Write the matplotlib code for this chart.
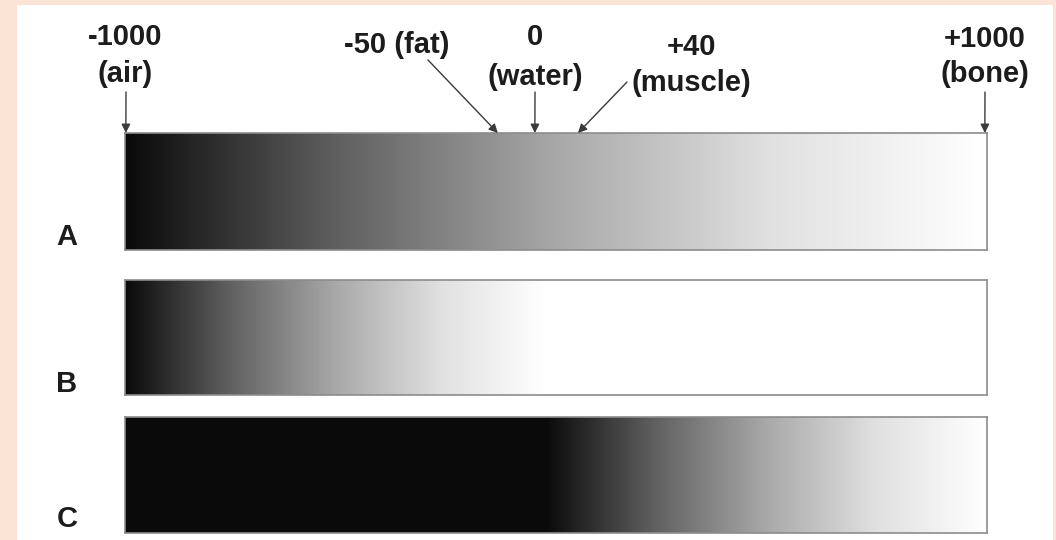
import numpy as np
import matplotlib
matplotlib.use("Agg")
import matplotlib.pyplot as plt
from matplotlib.colors import LinearSegmentedColormap, Normalize
from matplotlib.patches import Rectangle

# Hounsfield scale shown on the bars
hu_min, hu_max = -1000, 1000

# grey-level windows for the three bars (HU at black, HU at white)
bar_names = ["A", "B", "C"]
window_low = [-1000, -1000, -25]
window_high = [1000, -25, 1000]

# markers above bar A
marker_value = ["-1000", "-50 (fat)", "0", "+40", "+1000"]
marker_name = ["(air)", "", "(water)", "(muscle)", "(bone)"]
marker_hu = [-998, -135, -49, 51, 995]   # where the arrows touch the bar, as drawn

# grey ramp (fraction of window -> grey level)
ramp_pos = [0.0, 0.25, 0.5, 0.75, 1.0]
ramp_grey = [0.04, 0.38, 0.66, 0.88, 1.0]

W, H = 1056, 540
fig = plt.figure(figsize=(W / 100, H / 100), dpi=100, facecolor="#fbe3d5")
fig.patches.append(Rectangle((17 / W, 0), 1036 / W, 535 / H, transform=fig.transFigure,
                             facecolor="white", edgecolor="none", zorder=-10))

cmap = LinearSegmentedColormap.from_list(
    "ramp", [(p, (g, g, g)) for p, g in zip(ramp_pos, ramp_grey)])

font = dict(family=["Liberation Sans", "DejaVu Sans"], fontweight="bold",
            fontsize=21, color="#1c1c1c")

# bar rectangles in pixels: top, bottom
bar_top = [133, 280, 417]
bar_bottom = [250, 395, 533]
label_base = [245, 392, 527]
left, right = 125, 987

hu = np.linspace(hu_min, hu_max, 1200)
axes = []
for name, lo, hi, top, bot, lb in zip(bar_names, window_low, window_high,
                                       bar_top, bar_bottom, label_base):
    ax = fig.add_axes([left / W, 1 - bot / H, (right - left) / W, (bot - top) / H])
    ax.imshow(hu[None, :], cmap=cmap, norm=Normalize(lo, hi, clip=True),
              aspect="auto", extent=(hu_min, hu_max, 0, 1), interpolation="bilinear")
    ax.set_xlim(hu_min, hu_max)
    ax.set_ylim(0, 1)
    ax.set_xticks([])
    ax.set_yticks([])
    for s in ax.spines.values():
        s.set_color("#8c8c8c")
        s.set_linewidth(1.2)
    fig.text(67 / W, 1 - lb / H, name, ha="center", va="baseline", **font)
    axes.append(ax)

# label positions (pixels from top-left)
text_x = [125, 397, 535, 691, 985]
value_base = [45, 53, 45, 55, 47]
name_base = [82, 0, 85, 91, 82]
tail_x = [126, 428, 535, 627, 985]
tail_y = [92, 60, 92, 82, 92]

for v, n, h, tx, vb, nb, ax_, ay in zip(marker_value, marker_name, marker_hu, text_x,
                                        value_base, name_base, tail_x, tail_y):
    fig.text(tx / W, 1 - vb / H, v, ha="center", va="baseline", **font)
    if n:
        fig.text(tx / W, 1 - nb / H, n, ha="center", va="baseline", **font)
    axes[0].annotate("", xy=(h, 1.0), xycoords=("data", "axes fraction"),
                     xytext=(ax_, H - ay), textcoords="figure pixels",
                     arrowprops=dict(arrowstyle="-|>", color="#3a3a3a", lw=1.0,
                                     mutation_scale=13, shrinkA=0, shrinkB=0),
                     annotation_clip=False)

fig.savefig("out.png", dpi=100, facecolor=fig.get_facecolor())
